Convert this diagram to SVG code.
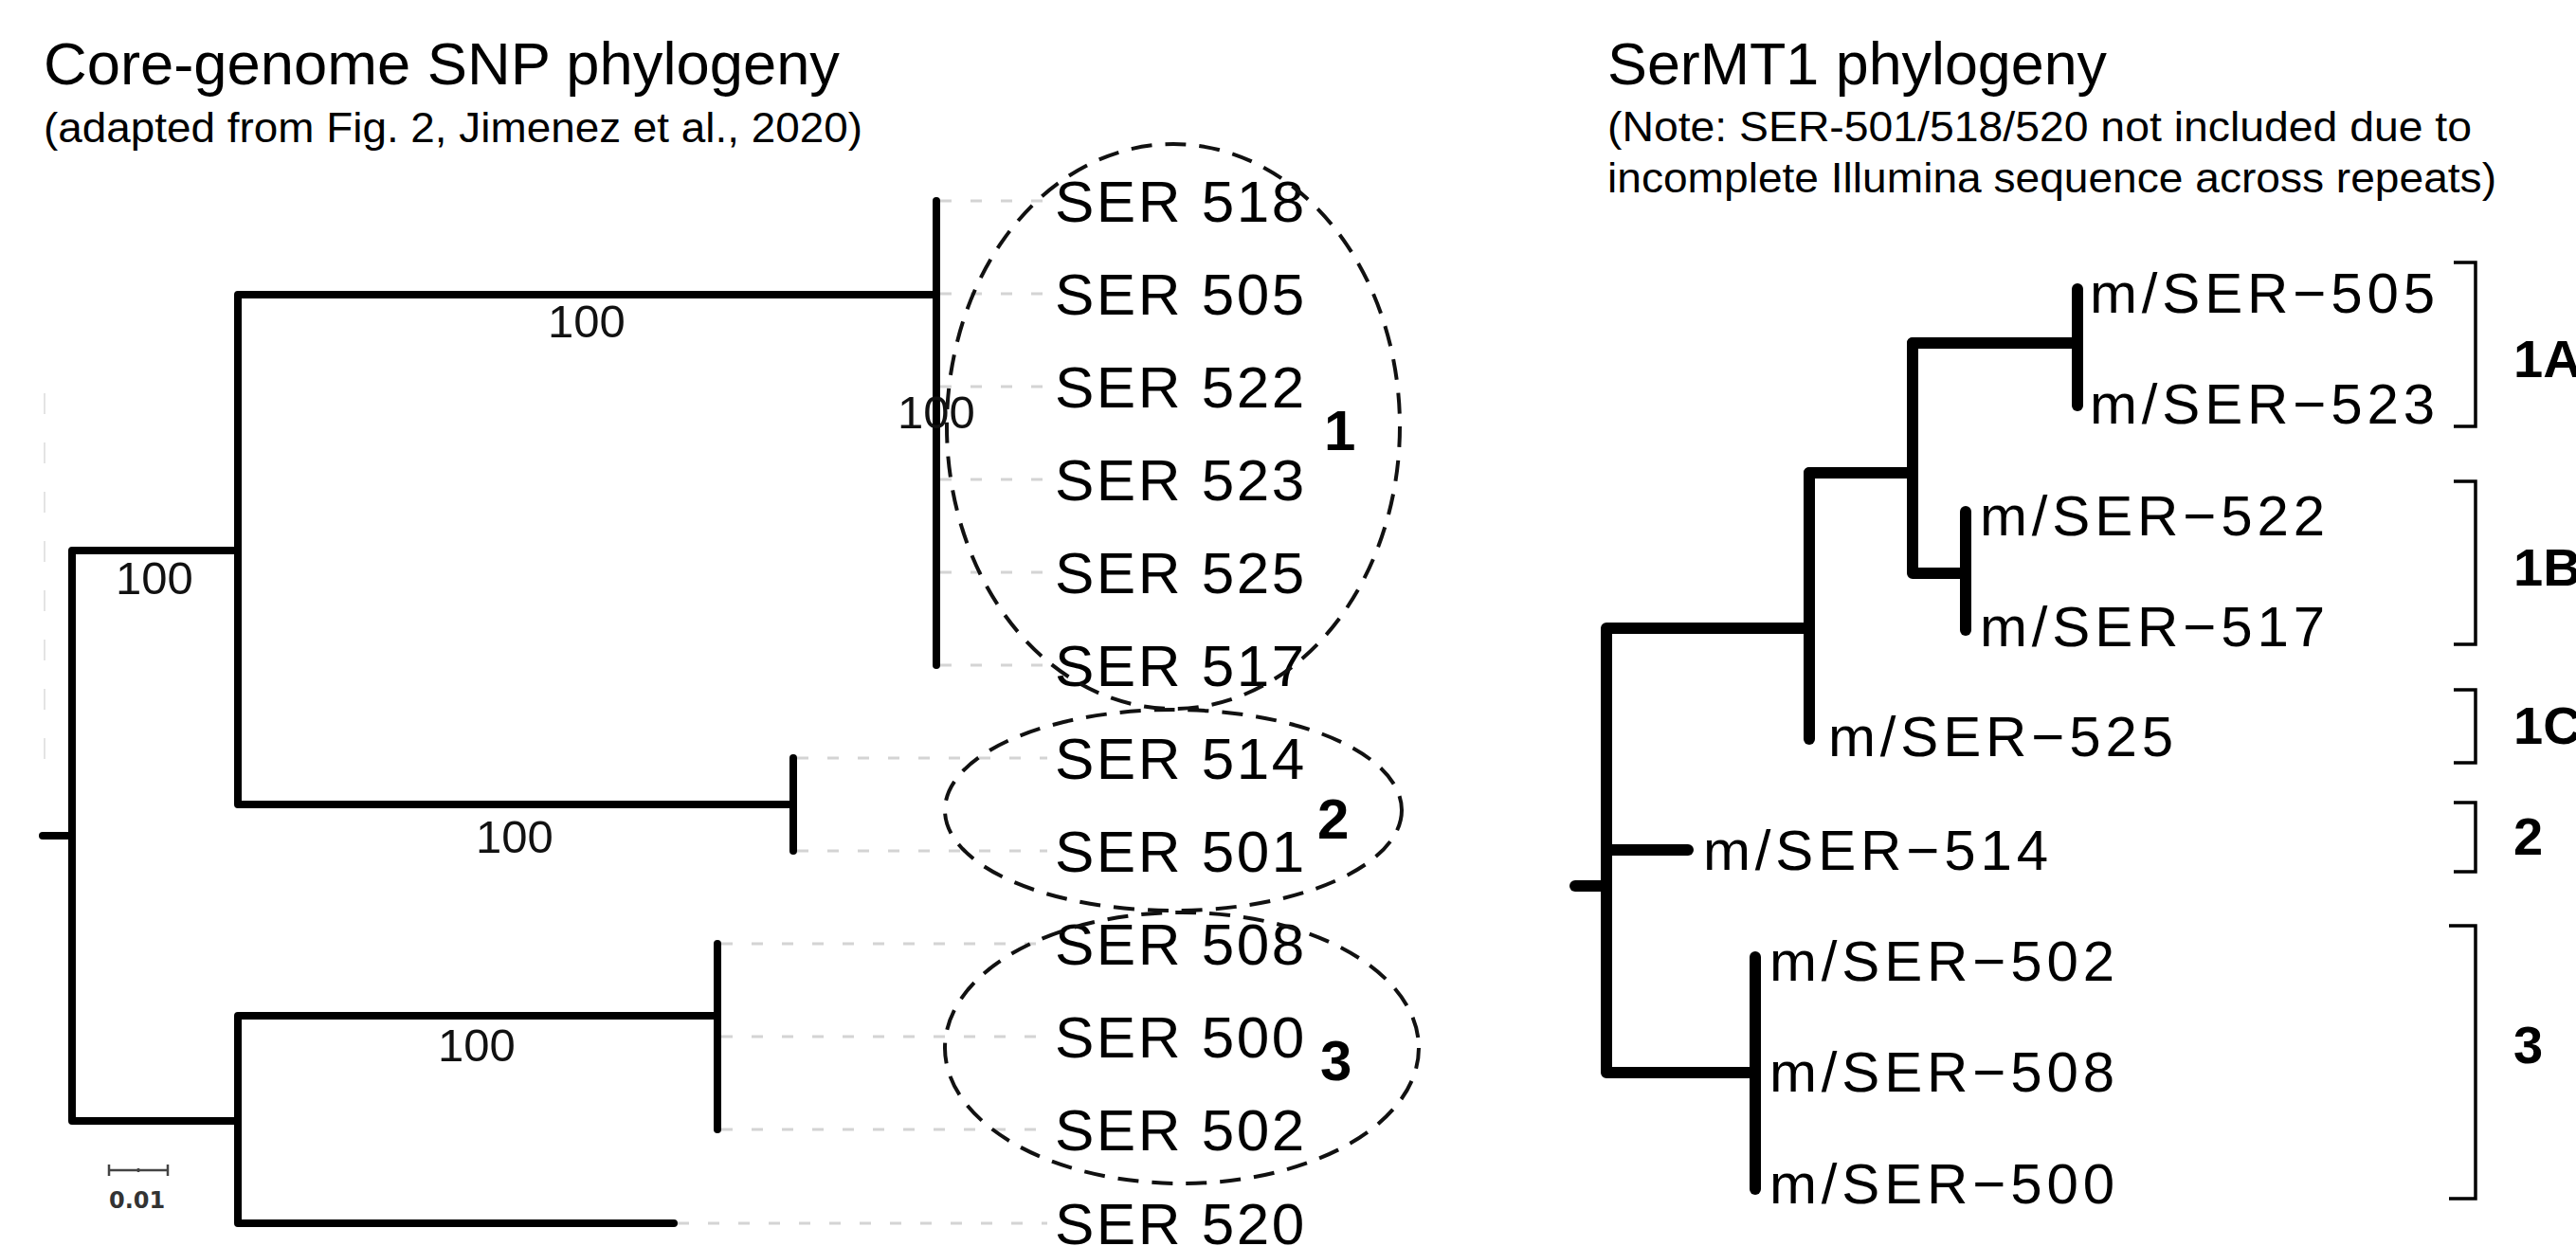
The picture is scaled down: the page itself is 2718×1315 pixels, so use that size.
<svg xmlns="http://www.w3.org/2000/svg" width="2718" height="1315" viewBox="0 0 2718 1315">
<style>
  text { font-family: "Liberation Sans", Arial, sans-serif; fill: #000; }
  .title { font-size: 63px; }
  .sub { font-size: 45px; }
  .boot { font-size: 49px; fill: #111; text-anchor: middle; }
  .lt { font-size: 62px; letter-spacing: 2.5px; }
  .rt { font-size: 60px; }
  .clade { font-size: 60px; font-weight: bold; }
  .blab { font-size: 56px; font-weight: bold; }
  .ltree { fill: none; stroke: #000; stroke-width: 8; stroke-linecap: round; stroke-linejoin: round; }
  .rtree { fill: none; stroke: #000; stroke-width: 12; stroke-linecap: round; stroke-linejoin: round; }
  .guide { fill: none; stroke: #d4d4d4; stroke-width: 3; stroke-dasharray: 12 20; }
  .ell { fill: none; stroke: #111; stroke-width: 4; stroke-dasharray: 22 14; }
  .brk { fill: none; stroke: #000; stroke-width: 3.5; }
</style>

<!-- Titles -->
<g id="left-title">
  <text class="title" x="46" y="89" textLength="840" lengthAdjust="spacingAndGlyphs">Core-genome SNP phylogeny</text>
  <text class="sub" x="46" y="150" textLength="864" lengthAdjust="spacingAndGlyphs">(adapted from Fig. 2, Jimenez et al., 2020)</text>
</g>
<g id="right-title">
  <text class="title" x="1696" y="89" textLength="527" lengthAdjust="spacingAndGlyphs">SerMT1 phylogeny</text>
  <text class="sub" x="1696" y="149" textLength="912" lengthAdjust="spacingAndGlyphs">(Note: SER-501/518/520 not included due to</text>
  <text class="sub" x="1696" y="203" textLength="938" lengthAdjust="spacingAndGlyphs">incomplete Illumina sequence across repeats)</text>
</g>

<!-- Connectors: tree branches, guide lines -->
<g id="connectors">
  <g id="left-guides">
    <path class="guide" d="M992 212 H1105 M992 310 H1105 M992 408 H1105 M992 506 H1105 M992 604 H1105 M992 702 H1105"/>
    <path class="guide" d="M841 800 H1105 M841 898 H1105"/>
    <path class="guide" d="M761 996 H1105 M761 1094 H1105 M761 1192 H1105"/>
    <path class="guide" d="M715 1291 H1105"/>
    <path fill="none" stroke="#e4e4e4" stroke-width="2" stroke-dasharray="22 30" d="M47 415 V830"/>
  </g>
  <g id="left-tree">
    <path class="ltree" d="M45 882 H76"/>
    <path class="ltree" d="M251 581 H76 V1183 H251"/>
    <path class="ltree" d="M988 311 H251 V849 H837"/>
    <path class="ltree" d="M988 212 V702"/>
    <path class="ltree" d="M837 800 V898"/>
    <path class="ltree" d="M757 1072 H251 V1291 H711"/>
    <path class="ltree" d="M757 996 V1192"/>
  </g>
  <g id="right-tree">
    <path class="rtree" d="M1662 935 H1695"/>
    <path class="rtree" d="M1909 663 H1695 V1132 H1852"/>
    <path class="rtree" d="M1909 499 V780"/>
    <path class="rtree" d="M1909 499 H2018 V605 H2074"/>
    <path class="rtree" d="M2018 362 V499"/>
    <path class="rtree" d="M2018 362 H2192"/>
    <path class="rtree" d="M2192 305 V428"/>
    <path class="rtree" d="M2074 540 V665"/>
    <path class="rtree" d="M1695 897 H1781"/>
    <path class="rtree" d="M1852 1010 V1255"/>
  </g>
  <g id="right-brackets">
    <path class="brk" d="M2589 277 H2612 V450 H2589"/>
    <path class="brk" d="M2589 508 H2612 V680 H2589"/>
    <path class="brk" d="M2589 728 H2612 V805 H2589"/>
    <path class="brk" d="M2589 847 H2612 V920 H2589"/>
    <path class="brk" d="M2584 977 H2612 V1265 H2584"/>
  </g>
</g>

<!-- Bootstrap values -->
<g id="bootstrap">
  <text class="boot" x="619" y="356">100</text>
  <text class="boot" x="988" y="452">100</text>
  <text class="boot" x="163" y="627">100</text>
  <text class="boot" x="543" y="900">100</text>
  <text class="boot" x="503" y="1120">100</text>
</g>

<!-- Scale bar -->
<g id="scale-bar">
  <path fill="none" stroke="#444" stroke-width="2.5" d="M115 1235 H177 M115 1229 V1241 M177 1229 V1241 M146 1233 V1237"/>
  <text x="115" y="1275" style="font-family:'DejaVu Sans','Liberation Sans',sans-serif;font-size:24px;font-weight:bold;fill:#333">0.01</text>
</g>

<!-- Left taxa -->
<g id="left-taxa">
  <g id="L518"><text class="lt" x="1113" y="234">SER 518</text></g>
  <g id="L505"><text class="lt" x="1113" y="332">SER 505</text></g>
  <g id="L522"><text class="lt" x="1113" y="430">SER 522</text></g>
  <g id="L523"><text class="lt" x="1113" y="528">SER 523</text></g>
  <g id="L525"><text class="lt" x="1113" y="626">SER 525</text></g>
  <g id="L517"><text class="lt" x="1113" y="724">SER 517</text></g>
  <g id="L514"><text class="lt" x="1113" y="822">SER 514</text></g>
  <g id="L501"><text class="lt" x="1113" y="920">SER 501</text></g>
  <g id="L508"><text class="lt" x="1113" y="1018">SER 508</text></g>
  <g id="L500"><text class="lt" x="1113" y="1116">SER 500</text></g>
  <g id="L502"><text class="lt" x="1113" y="1214">SER 502</text></g>
  <g id="L520"><text class="lt" x="1113" y="1313">SER 520</text></g>
</g>

<!-- Clade ellipses -->
<g id="clade-1"><ellipse class="ell" cx="1238" cy="450" rx="239" ry="298"/><text class="clade" x="1397" y="475">1</text></g>
<g id="clade-2"><ellipse class="ell" cx="1238" cy="855" rx="241" ry="106"/><text class="clade" x="1390" y="885">2</text></g>
<g id="clade-3"><ellipse class="ell" cx="1247" cy="1106" rx="250" ry="143"/><text class="clade" x="1393" y="1140">3</text></g>

<!-- Right taxa -->
<g id="right-taxa">
  <g id="R505"><text class="rt" x="2205" y="330" textLength="364" lengthAdjust="spacing">m/SER−505</text></g>
  <g id="R523"><text class="rt" x="2205" y="447" textLength="364" lengthAdjust="spacing">m/SER−523</text></g>
  <g id="R522"><text class="rt" x="2089" y="565" textLength="364" lengthAdjust="spacing">m/SER−522</text></g>
  <g id="R517"><text class="rt" x="2089" y="682" textLength="364" lengthAdjust="spacing">m/SER−517</text></g>
  <g id="R525"><text class="rt" x="1929" y="798" textLength="364" lengthAdjust="spacing">m/SER−525</text></g>
  <g id="R514"><text class="rt" x="1797" y="918" textLength="364" lengthAdjust="spacing">m/SER−514</text></g>
  <g id="R502"><text class="rt" x="1867" y="1035" textLength="364" lengthAdjust="spacing">m/SER−502</text></g>
  <g id="R508"><text class="rt" x="1867" y="1152" textLength="364" lengthAdjust="spacing">m/SER−508</text></g>
  <g id="R500"><text class="rt" x="1867" y="1270" textLength="364" lengthAdjust="spacing">m/SER−500</text></g>
</g>

<!-- Bracket labels -->
<g id="group-1A"><text class="blab" x="2652" y="398">1A</text></g>
<g id="group-1B"><text class="blab" x="2652" y="618">1B</text></g>
<g id="group-1C"><text class="blab" x="2652" y="785">1C</text></g>
<g id="group-2"><text class="blab" x="2652" y="902">2</text></g>
<g id="group-3"><text class="blab" x="2652" y="1122">3</text></g>
</svg>
